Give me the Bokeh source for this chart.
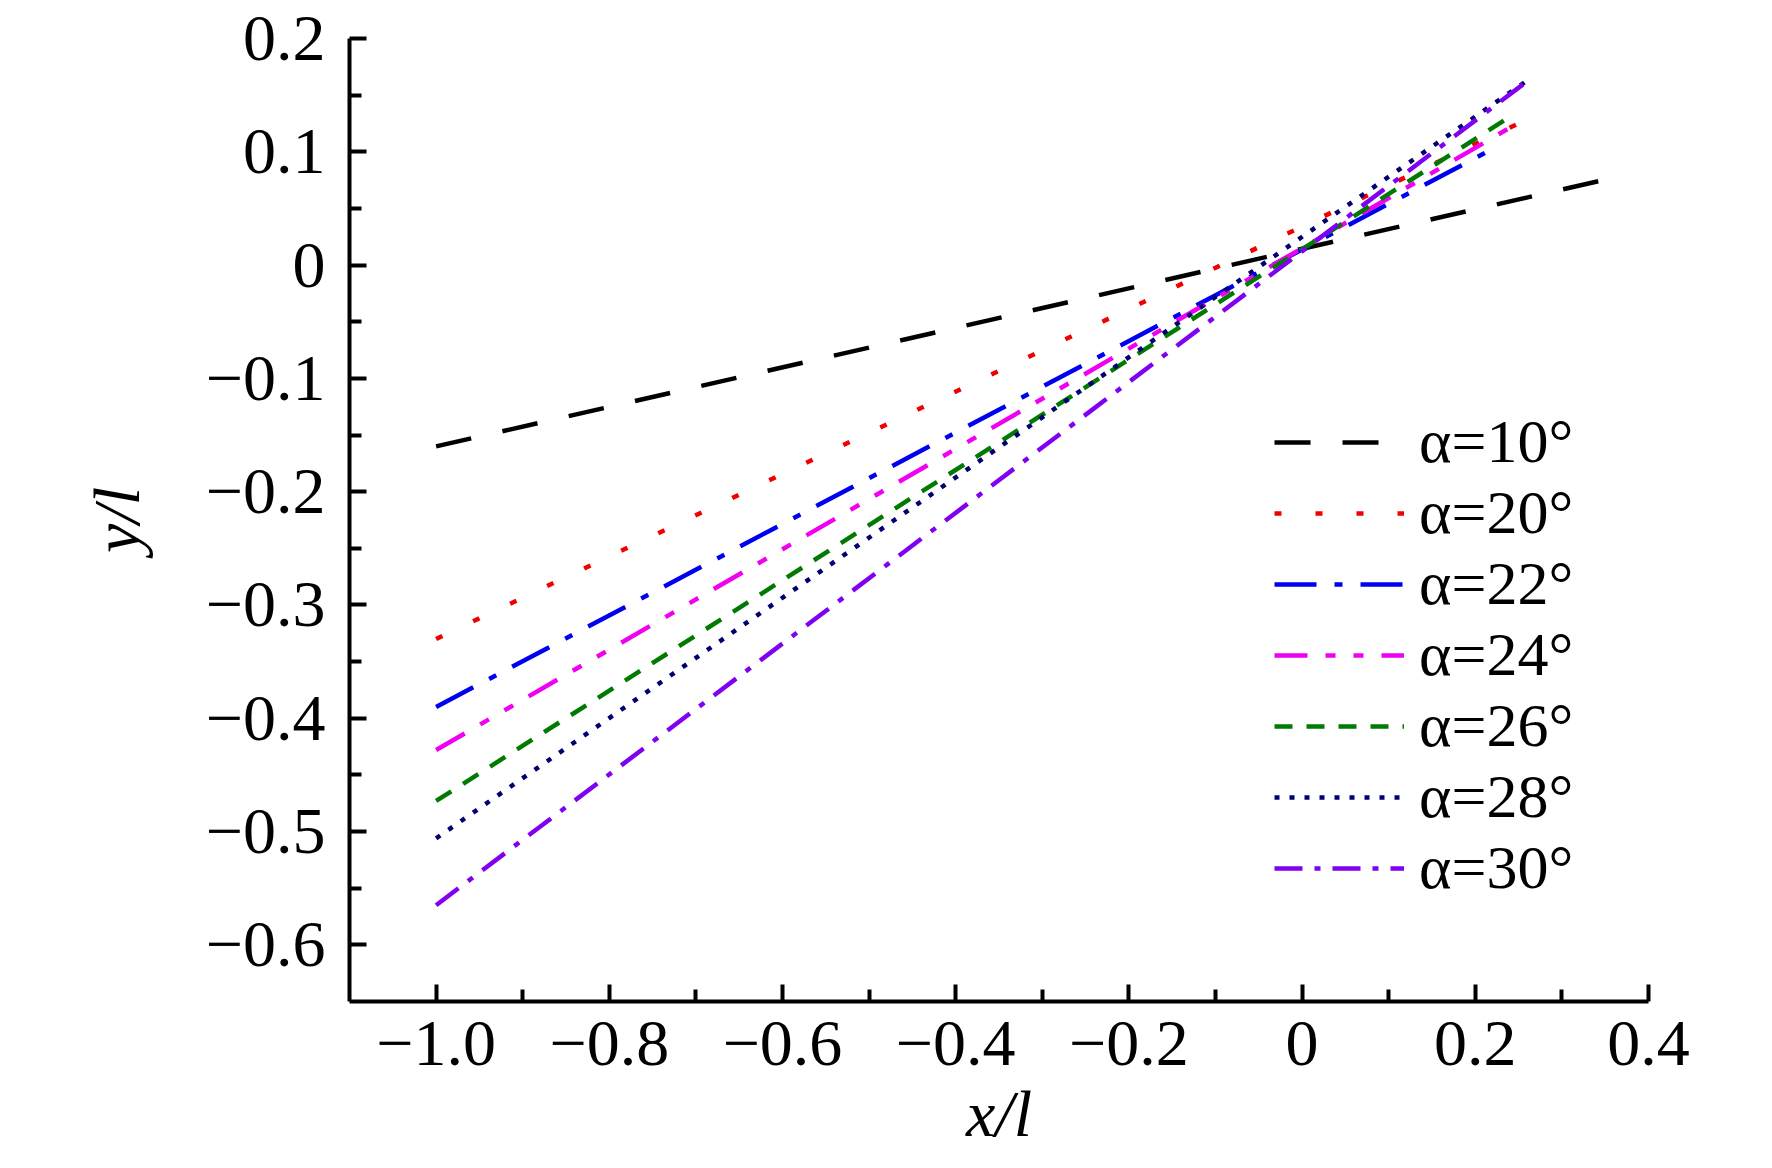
from bokeh.plotting import figure
from bokeh.models import Range1d, FixedTicker, Legend, LegendItem
from bokeh.embed import file_html
from bokeh.resources import INLINE

# ---- data ----
series_labels = ["α=10°", "α=20°", "α=22°", "α=24°", "α=26°", "α=28°", "α=30°"]
x_start = [-1.0, -1.0, -1.0, -1.0, -1.0, -1.0, -1.0]
y_start = [-0.160, -0.330, -0.390, -0.428, -0.473, -0.506, -0.565]
x_end = [0.342, 0.250, 0.226, 0.253, 0.234, 0.262, 0.256]
y_end = [0.074, 0.125, 0.105, 0.127, 0.128, 0.164, 0.160]

x_major = [-1.0, -0.8, -0.6, -0.4, -0.2, 0.0, 0.2, 0.4]
x_minor = [-0.9, -0.7, -0.5, -0.3, -0.1, 0.1, 0.3]
x_tick_labels = ["−1.0", "−0.8", "−0.6", "−0.4", "−0.2", "0", "0.2", "0.4"]
y_major = [-0.6, -0.5, -0.4, -0.3, -0.2, -0.1, 0.0, 0.1, 0.2]
y_minor = [-0.55, -0.45, -0.35, -0.25, -0.15, -0.05, 0.05, 0.15]
y_tick_labels = ["−0.6", "−0.5", "−0.4", "−0.3", "−0.2", "−0.1", "0", "0.1", "0.2"]

# ---- styles ----
colors = ["#000000", "#F00000", "#0000F0", "#F000F0", "#007A00", "#000070", "#8000F0"]
dashes = ["36 32", "7 34", "42 18 8 18", "33 18 10 18 10 18", "18 14", "5 10", "28 12 6 12"]

FONT = "Liberation Serif"

p = figure(width=1756, height=1152,
           x_range=Range1d(-1.1, 0.4), y_range=Range1d(-0.65, 0.2),
           output_backend="svg", toolbar_location=None,
           min_border_left=349, min_border_right=108,
           min_border_top=38, min_border_bottom=150)
p.grid.visible = False
p.outline_line_color = None
p.background_fill_color = "white"

items = []
for i in range(len(series_labels)):
    r = p.line([x_start[i], x_end[i]], [y_start[i], y_end[i]],
               line_color=colors[i], line_width=4.5, line_dash=dashes[i])
    items.append(LegendItem(label=series_labels[i], renderers=[r]))

for ax, major, minor, labels in ((p.xaxis[0], x_major, x_minor, x_tick_labels),
                                 (p.yaxis[0], y_major, y_minor, y_tick_labels)):
    ax.ticker = FixedTicker(ticks=major, minor_ticks=minor)
    ax.major_label_overrides = {v: s for v, s in zip(major, labels)}
    ax.axis_line_width = 4
    ax.major_tick_line_width = 4
    ax.minor_tick_line_width = 4
    ax.major_tick_in = 17
    ax.major_tick_out = 0
    ax.minor_tick_in = 12
    ax.minor_tick_out = 0
    ax.major_label_text_font = FONT
    ax.major_label_text_font_size = "66px"
    ax.major_label_text_color = "black"
    ax.axis_label_text_font = FONT
    ax.axis_label_text_font_style = "italic"
    ax.axis_label_text_font_size = "66px"
    ax.axis_label_text_color = "black"

p.xaxis.axis_label = "x/l"
p.yaxis.axis_label = "y/l"
p.xaxis.major_label_standoff = 20
p.xaxis.axis_label_standoff = 9
p.yaxis.major_label_standoff = 24
p.yaxis.axis_label_standoff = 50

legend = Legend(items=items, location=(925, 98),
                glyph_width=130, glyph_height=30, label_standoff=15,
                spacing=0, padding=0, margin=0,
                border_line_color=None, background_fill_alpha=0,
                label_text_font=FONT, label_text_font_size="62px",
                label_text_color="black")
p.add_layout(legend)

open("out.html", "w").write(file_html(p, INLINE))
